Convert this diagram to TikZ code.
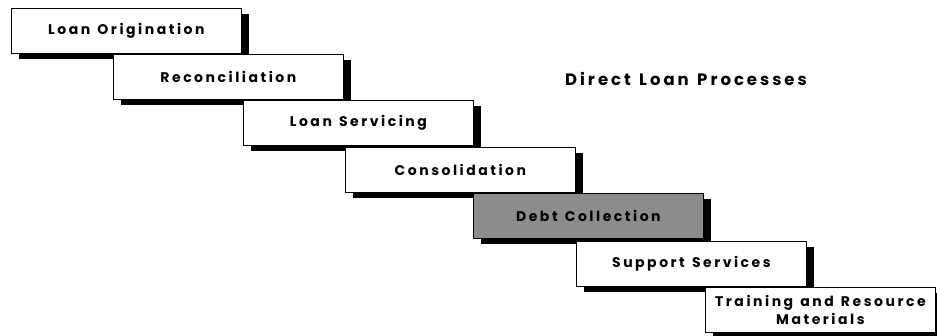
\documentclass[tikz,border=0pt]{standalone}
\usepackage{fontspec}
\setmainfont{Poppins}[LetterSpace=18, WordSpace=1.3]
\usetikzlibrary{shadows}
\begin{document}
\begin{tikzpicture}[x=1pt,y=-1pt,
  stepbox/.style={draw=black, line width=0.8pt, fill=white, anchor=north west,
    minimum width=230pt, minimum height=45pt, inner sep=1pt, align=center,
    font=\fontsize{14}{18}\selectfont\bfseries,
    drop shadow={shadow xshift=8pt, shadow yshift=-6pt, opacity=1, fill=black}},
  shaded/.style={fill=black!45},
  title/.style={font=\fontsize{16.5}{19}\selectfont\bfseries}]
\useasboundingbox (0,0) rectangle (937,336);
\node[stepbox] (b1) at (11,8) {Loan Origination};
\node[stepbox] (b2) at (113,54) {Reconciliation};
\node[stepbox] (b3) at (243,100) {Loan Servicing};
\node[stepbox] (b4) at (345,147) {Consolidation};
\node[stepbox, shaded] (b5) at (473,193) {Debt Collection};
\node[stepbox] (b6) at (576,241) {Support Services};
\node[stepbox] (b7) at (705,287) {Training and Resource\\Materials};
\node[title] (t) at (686,79) {Direct Loan Processes};
\end{tikzpicture}
\end{document}
